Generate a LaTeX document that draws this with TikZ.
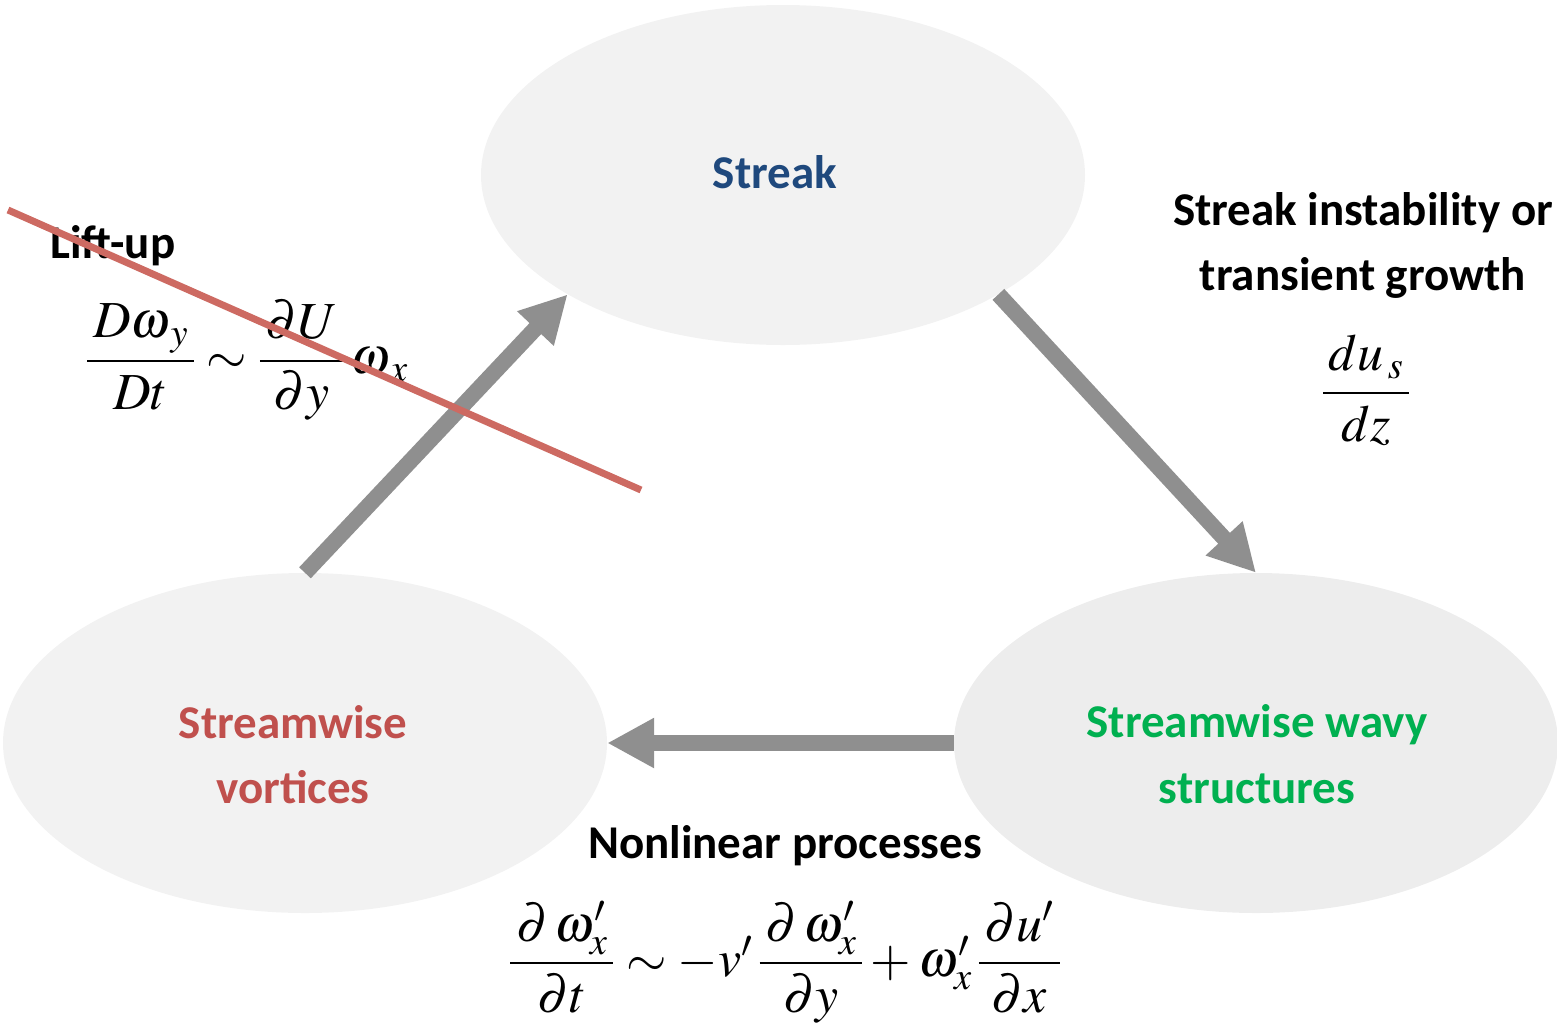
\documentclass[tikz,border=0pt]{standalone}
\usepackage{amsmath}
\usepackage{mathptmx}
\usepackage[no-math]{fontspec}
\setmainfont{Carlito}
\usetikzlibrary{shapes.geometric,arrows.meta}
\definecolor{ellfill}{HTML}{F2F2F2}
\definecolor{ellfillb}{HTML}{EDEDED}
\definecolor{arrgray}{HTML}{8F8F8F}
\definecolor{strikered}{HTML}{CD6A62}
\definecolor{streakblue}{HTML}{1F497D}
\definecolor{vortred}{HTML}{C0504D}
\definecolor{wavygreen}{HTML}{00B050}
\tikzset{
  bubble/.style={ellipse, draw=none, fill=ellfill, minimum width=604pt, minimum height=340pt, inner sep=0pt},
  bigarrow/.style={draw=arrgray, line width=16pt, -{Triangle[length=47pt,width=47pt]}, shorten >=0pt},
  lbl/.style={font=\fontsize{47}{66}\selectfont\bfseries, inner sep=0pt, anchor=base},
  eqn/.style={font=\fontsize{52}{62}\selectfont, inner sep=0pt}
}
\begin{document}
\begin{tikzpicture}[x=1pt,y=-1pt]
\useasboundingbox (0,0) rectangle (1557,1029);
% ellipses
\node[bubble] (streak) at (783,175) {};
\node[bubble] (vort) at (305,743) {};
\node[bubble, fill=ellfillb] (wavy) at (1256,743) {};
% ellipse texts
\node[lbl, text=streakblue] (streakT) at (775,188) {Streak};
\node[lbl, text=vortred] (vortA) at (293,738) {Streamwise};
\node[lbl, text=vortred] (vortB) at (293,803) {vortices};
\node[lbl, text=wavygreen] (wavyA) at (1257,737) {Streamwise wavy};
\node[lbl, text=wavygreen] (wavyB) at (1257,803) {structures};
% arrows
\draw[bigarrow] (vort.north) -- (streak.209);
\draw[bigarrow] (streak.-29) -- (wavy.north);
\draw[bigarrow] (wavy.west) -- (vort.east);
% annotations
\node[lbl, anchor=base west] (liftT) at (50,258) {Lift-up};
\node[eqn] (liftE) at (247,360) {$\dfrac{\,D\omega_{\,y}\,}{Dt}\sim\dfrac{\,\partial U\,}{\partial y}\,\omega_{\,x}$};
\node[lbl] (instA) at (1363,225) {Streak instability or};
\node[lbl] (instB) at (1363,290) {transient growth};
\node[eqn] (instE) at (1366,390) {$\dfrac{\,du_{\,s}\,}{dz}$};
\node[lbl] (nonT) at (785,858) {Nonlinear processes};
\node[eqn] (nonE) at (785,962) {$\dfrac{\,\partial\,\omega'_x\,}{\partial t}\sim-v'\,\dfrac{\,\partial\,\omega'_x\,}{\partial y}+\omega'_x\,\dfrac{\,\partial u'\,}{\partial x}$};
% strike-through line
\coordinate (r1) at (8,210);
\coordinate (r2) at (641,490);
\draw[strikered, line width=7pt] (r1) -- (r2);
\end{tikzpicture}
\end{document}
